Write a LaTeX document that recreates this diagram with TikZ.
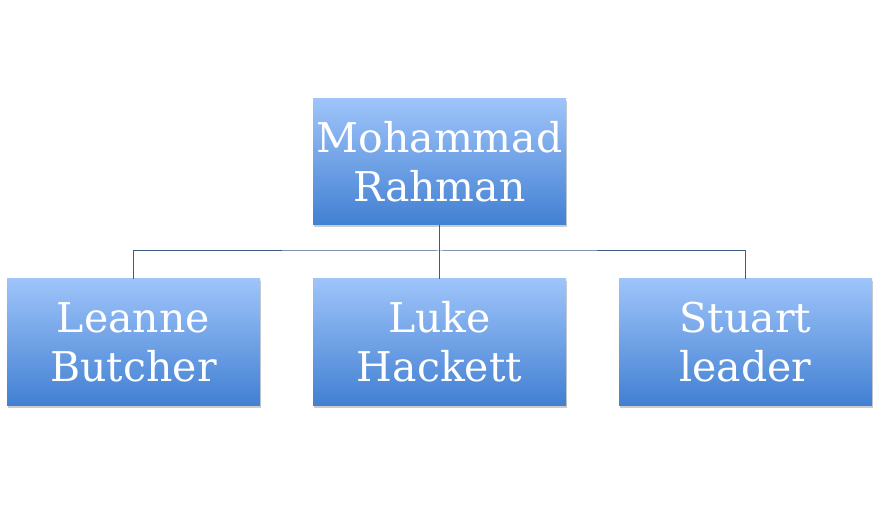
\documentclass[tikz,border=0pt]{standalone}
\usepackage{fontspec}
\setmainfont{DejaVu Serif}
\usetikzlibrary{shadows}
\definecolor{T}{RGB}{158, 196, 250}
\definecolor{D}{RGB}{66, 128, 210}
\definecolor{L}{RGB}{62, 90, 135}
\tikzset{
  person/.style={minimum width=253pt, minimum height=126pt, inner sep=0pt,
    top color=T, bottom color=D, draw=none, align=center, text=white,
    font=\fontsize{41}{49}\selectfont,
    drop shadow={shadow xshift=1pt, shadow yshift=-2.5pt, opacity=0.4, fill=black!50}},
  link/.style={L, line width=1pt}
}

\begin{document}
\begin{tikzpicture}[x=1pt, y=-1pt]
  \useasboundingbox[fill=white] (0,0) rectangle (879,505);
  % chart boxes
  \node[person] (mr) at (439.5,162) {Mohammad\\Rahman};
  \node[person] (lb) at (133.5,342) {Leanne\\Butcher};
  \node[person] (lh) at (439.5,342) {Luke\\Hackett};
  \node[person] (sl) at (745.5,342) {Stuart\\leader};
  % connectors
  \coordinate (bar) at (439.5,251);
  \draw[link] (mr.south) -- (bar);
  \draw[link] (lb.north) |- (bar) -| (sl.north);
  \draw[link] (bar) -- (lh.north);
\end{tikzpicture}
\end{document}
